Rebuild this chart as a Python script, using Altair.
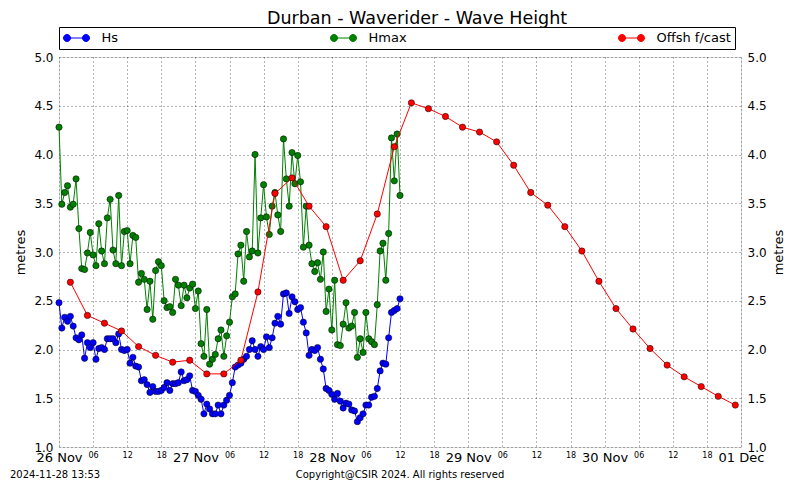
import json
import altair as alt
import pandas as pd

# ---------------- data ----------------
SERIES = ["Hs", "Hmax", "Offsh f/cast"]
COLORS = ["#0000ff", "#008000", "#ff0000"]

# measurements every 30 minutes from 26 Nov 00:00
MEAS_STEP_H = 0.5
hs = [
    2.48, 2.22, 2.33, 2.29, 2.34, 2.24, 2.12, 2.10, 2.15, 1.91,
    2.07, 2.02, 2.07, 1.90, 2.01, 2.02, 2.00, 2.11, 2.11, 2.11,
    2.07, 2.16, 2.00, 1.99, 2.00, 1.86, 1.92, 1.83, 1.82, 1.68,
    1.69, 1.64, 1.56, 1.62, 1.57, 1.57, 1.58, 1.61, 1.66, 1.58,
    1.65, 1.65, 1.66, 1.77, 1.68, 1.69, 1.73, 1.58, 1.57, 1.53,
    1.49, 1.34, 1.44, 1.39, 1.34, 1.34, 1.43, 1.34, 1.43, 1.48,
    1.53, 1.66, 1.82, 1.84, 1.86, 1.90, 1.93, 2.00, 2.09, 2.00,
    1.93, 2.03, 2.00, 2.13, 2.02, 2.12, 2.27, 2.34, 2.26, 2.57,
    2.58, 2.37, 2.54, 2.49, 2.41, 2.43, 2.28, 2.17, 1.94, 2.00,
    1.99, 2.02, 1.90, 1.80, 1.60, 1.58, 1.54, 1.49, 1.55, 1.47,
    1.40, 1.45, 1.44, 1.38, 1.37, 1.26, 1.30, 1.34, 1.43, 1.43,
    1.51, 1.52, 1.60, 1.78, 1.86, 1.85, 2.12, 2.38, 2.40, 2.42,
    2.52,
]
hmax = [
    4.28, 3.49, 3.61, 3.68, 3.46, 3.49, 3.75, 3.24, 2.83, 2.82,
    2.99, 3.20, 2.97, 2.86, 3.29, 3.01, 2.88, 3.35, 3.54, 3.02,
    2.88, 3.58, 2.86, 3.21, 3.22, 2.88, 3.17, 3.15, 2.69, 2.78,
    2.72, 2.41, 2.70, 2.31, 2.81, 2.90, 2.86, 2.50, 2.43, 2.44,
    2.38, 2.72, 2.66, 2.45, 2.66, 2.53, 2.63, 2.67, 2.42, 2.60,
    2.06, 1.93, 2.41, 1.85, 1.90, 1.95, 2.11, 2.20, 1.93, 2.14,
    2.28, 2.54, 2.57, 2.98, 3.07, 2.70, 3.21, 2.95, 3.01, 4.00,
    2.99, 3.35, 3.69, 3.36, 3.18, 3.47, 3.61, 3.38, 3.21, 4.16,
    3.75, 3.47, 4.02, 3.70, 3.99, 3.72, 3.05, 3.47, 3.07, 2.88,
    2.80, 2.89, 2.72, 3.00, 2.39, 2.62, 2.20, 2.71, 2.05, 2.04,
    2.26, 2.48, 2.22, 2.24, 2.38, 1.92, 2.11, 1.97, 2.38, 2.11,
    2.08, 2.05, 2.46, 3.01, 3.09, 2.71, 3.19, 4.17, 3.73, 4.21,
    3.58,
]
# offshore forecast every 3 hours from 26 Nov 02:00
FC_START_H = 2
FC_STEP_H = 3
fcast = [
    2.69, 2.35, 2.27, 2.19, 2.03, 1.94, 1.87, 1.89, 1.75, 1.75,
    1.89, 2.59, 3.60, 3.76, 3.47, 3.26, 2.71, 2.91, 3.39, 4.08,
    4.53, 4.47, 4.39, 4.28, 4.23, 4.13, 3.89, 3.61, 3.48, 3.26,
    3.01, 2.70, 2.42, 2.21, 2.01, 1.84, 1.72, 1.62, 1.52, 1.43,
]

DAY_LABELS = ["26 Nov", "27 Nov", "28 Nov", "29 Nov", "30 Nov", "01 Dec"]
HOUR_LABELS = ["00", "06", "12", "18"]
X_TICKS = list(range(0, 121, 6))
Y_TICKS = [1.0, 1.5, 2.0, 2.5, 3.0, 3.5, 4.0, 4.5, 5.0]

TITLE = "Durban - Waverider - Wave Height"
Y_TITLE = "metres"
FOOT_LEFT = "2024-11-28 13:53"
FOOT_CENTER = "Copyright@CSIR 2024. All rights reserved"

rows = []
for i, v in enumerate(hs):
    rows.append({"series": "Hs", "t": i * MEAS_STEP_H, "v": v})
for i, v in enumerate(hmax):
    rows.append({"series": "Hmax", "t": i * MEAS_STEP_H, "v": v})
meas_df = pd.DataFrame(rows)
fc_df = pd.DataFrame({
    "series": "Offsh f/cast",
    "t": [FC_START_H + i * FC_STEP_H for i in range(len(fcast))],
    "v": fcast,
})

# ---------------- style ----------------
W, H = 682, 390
FONT = "DejaVu Sans"
GRID_DASH = [1, 3]

# legend symbol: short line with two markers (drawn to the right of the nominal box)
LEG_SYMBOL = ("M-0.46,0L2.46,0"
              "M-1,0a0.54,0.54 0 1,0 1.08,0a0.54,0.54 0 1,0 -1.08,0"
              "M1.92,0a0.54,0.54 0 1,0 1.08,0a0.54,0.54 0 1,0 -1.08,0")

legend = alt.Legend(
    title=None, orient="none", legendX=0, legendY=-30, direction="horizontal",
    symbolType=LEG_SYMBOL, symbolSize=169, symbolStrokeWidth=1,
    labelFont=FONT, labelFontSize=13, labelOffset=24.5, labelColor="black",
    columnPadding=209, padding=4, strokeColor="black", fillColor="white",
    gridAlign="each",
)

color_scale = alt.Scale(domain=SERIES, range=COLORS)

label_expr = ("datum.value % 24 == 0 ? " + json.dumps(DAY_LABELS) +
              "[datum.value / 24] : " + json.dumps(HOUR_LABELS) +
              "[(datum.value % 24) / 6]")

x_enc = alt.X(
    "t:Q",
    scale=alt.Scale(domain=[0, 120], nice=False, zero=False),
    axis=alt.Axis(
        values=X_TICKS, title=None, labelExpr=label_expr,
        labelFontSize={"condition": {"test": "datum.value % 24 == 0", "value": 13}, "value": 8},
        labelFont=FONT, labelColor="black", labelPadding=4,
        labelOverlap=False, labelFlush=False, labelBound=False,
        ticks=False, domain=False, grid=True, gridDash=GRID_DASH,
        gridColor="#444", gridWidth=0.8,
    ),
)

def y_enc(orient, grid, title_pad):
    return alt.Y(
        "v:Q",
        scale=alt.Scale(domain=[1, 5], nice=False, zero=False),
        axis=alt.Axis(
            orient=orient, values=Y_TICKS, format=".1f", title=Y_TITLE,
            titleAngle=270, titleFont=FONT, titleFontSize=13,
            titleFontWeight="normal", titleColor="black", titlePadding=title_pad,
            labelFont=FONT, labelFontSize=12, labelColor="black", labelPadding=6,
            ticks=False, domain=False, grid=grid, gridDash=GRID_DASH,
            gridColor="#444", gridWidth=0.8,
        ),
    )

def series_layers(df, yenc):
    line = alt.Chart(df).mark_line(strokeWidth=1).encode(
        x=x_enc, y=yenc,
        stroke=alt.Stroke("series:N", scale=color_scale, legend=legend),
    )
    pts = alt.Chart(df).mark_circle(size=40, stroke="black", strokeWidth=0.5, opacity=1).encode(
        x=x_enc, y=yenc,
        fill=alt.Fill("series:N", scale=color_scale, legend=legend),
    )
    return line, pts

y_left = y_enc("left", True, 6)
y_right = y_enc("right", False, 19)

hs_line, hs_pts = series_layers(meas_df[meas_df.series == "Hs"], y_left)
hm_line, hm_pts = series_layers(meas_df[meas_df.series == "Hmax"], y_left)
meas = alt.layer(hs_line, hs_pts, hm_line, hm_pts)

fc_line, fc_pts = series_layers(fc_df, y_right)
fc = alt.layer(fc_line, fc_pts)

foot_left = alt.Chart(pd.DataFrame({"label": [FOOT_LEFT]})).mark_text(
    align="left", baseline="alphabetic", font=FONT, fontSize=10, color="black"
).encode(x=alt.value(-49), y=alt.value(H + 31), text="label:N")
foot_center = alt.Chart(pd.DataFrame({"label": [FOOT_CENTER]})).mark_text(
    align="center", baseline="alphabetic", font=FONT, fontSize=10, color="black"
).encode(x=alt.value(341), y=alt.value(H + 31), text="label:N")

chart = alt.layer(meas, fc, foot_left, foot_center).resolve_scale(
    y="independent"
).properties(
    width=W, height=H,
    title=alt.TitleParams(TITLE, font=FONT, fontSize=17.5, fontWeight="normal",
                          color="black", anchor="middle", dx=17, dy=18, offset=3,
                          baseline="alphabetic"),
    autosize=alt.AutoSizeParams(type="none"),
    padding={"left": 51, "top": 49, "right": 51, "bottom": 33},
).configure_view(stroke="black", strokeWidth=1).configure(background="white")

chart.save("out.html", embed_options={"renderer": "svg", "actions": False})
